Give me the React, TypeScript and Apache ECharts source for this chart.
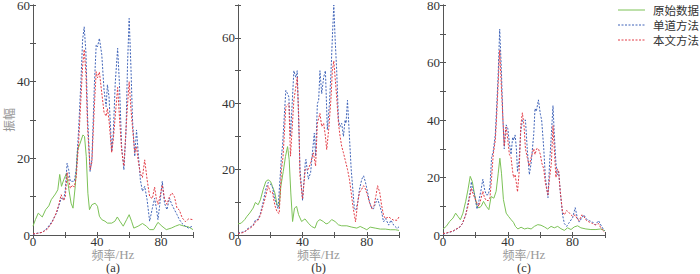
import React, { useEffect, useRef } from "react";
import * as echarts from "echarts";

type P = [number, number][];

// Panel (a)
const aRaw: P = [[0,2.3],[1.5,4],[3.3,5.7],[5.8,4.7],[7.9,6.6],[9.9,7.6],[11.4,9.2],[14,10.7],[15.5,11.8],[16.7,15.8],[17.8,12.7],[19.2,14.4],[20.9,16.1],[22.3,12.2],[23.8,8.3],[25,7],[26.4,12.7],[27.9,22.2],[29.5,24],[31.2,26.1],[32.2,25.7],[33.3,20.5],[34.3,10.9],[35.3,6.6],[36.8,7.9],[38.8,8.3],[40.3,7.5],[41.5,4.9],[43,4],[45,3.6],[46.5,3.1],[49.2,3.1],[51.2,3.6],[52.7,4.7],[54.3,3.6],[56.4,2.3],[58.5,4],[60.1,5.3],[61.6,3.6],[63,1.8],[65.7,2.3],[68.4,3],[70.9,2.3],[72.9,1.4],[75.4,1.4],[78.1,3.3],[80.6,2.3],[83.3,1.4],[86.4,1.8],[89,2.3],[91.5,2.7],[94.6,2.3],[97.3,2.1],[100,1.4]];
const aSingle: P = [[0,0.1],[2.7,0.5],[5.8,0.7],[8.9,1.8],[12,3.6],[14.7,5.7],[16.1,7.5],[17.6,9.6],[19.2,9.2],[20.2,11.8],[21.3,18.7],[22.3,17],[23.3,14],[24.8,14],[25.8,14],[27,17],[28.5,27.4],[30,40.5],[31,50.9],[32,54.3],[33.1,47.4],[34.1,30.9],[35.7,16.6],[36.8,19.6],[38.4,39.6],[39.5,49.6],[40.3,49.1],[41.5,51.3],[43,47],[44.4,37.8],[45.7,33.5],[46.5,39.2],[47.5,36.1],[49.2,21.8],[50.2,26.6],[51.4,39.6],[52.9,48.7],[54,39.6],[55.4,23.1],[56.8,17],[58.1,26.6],[59.1,44.8],[60.1,56.5],[61.2,43.9],[62.2,30],[63.6,20.5],[64.7,27.4],[65.7,21.8],[67.1,14.4],[68.4,11.4],[69.8,12.7],[71.3,9.2],[72.9,3.6],[74.6,7],[76,9.6],[77.1,7],[78.1,4],[79.1,7.5],[80.8,14],[82.2,8.3],[83.7,6.6],[85.3,9.6],[86.8,7.9],[88.4,6.6],[90,5.3],[91.5,4],[93.2,3],[95.2,2.3],[97.3,1.8],[100,2.4]];
const aOurs: P = [[0,0.3],[2.7,0.4],[5.8,0.7],[8.9,1.5],[12,3.3],[14.7,6],[16.1,7.9],[17.6,10.5],[19.2,9],[20.2,10],[21.3,16.3],[22.3,14.5],[23.3,12.2],[24.8,13],[25.8,12.5],[27,15],[28.5,24],[30,36],[31,44],[32,48.4],[33.1,42],[34.1,28],[35.7,17],[36.8,19],[38.4,34],[39.5,42.6],[40.3,41],[41.5,42.5],[43,37],[44.4,32],[45.7,31],[46.5,33],[47.5,30],[49.2,21.5],[50.2,25],[51.4,31],[52.9,38.5],[54,31],[55.4,22],[56.8,18],[58.1,27.4],[59.1,34],[60.1,40],[61.2,33],[62.2,28],[63.6,21.5],[64.7,23],[65.7,19.5],[67.1,16],[68.4,15],[69.8,19.6],[71.3,14.5],[72.9,10],[74.6,9.5],[76,12.5],[77.1,9.5],[78.1,8],[79.1,9.5],[80.8,13],[82.2,9.5],[83.7,8],[85.3,10],[86.8,11],[88.4,10],[90,7],[91.5,6.5],[93.2,4.5],[95.2,3.5],[97.3,4.2],[100,4]];

// Panel (b)
const bRaw: P = [[0,3.4],[2,3.6],[4.2,4.7],[5.6,5.7],[7.3,6.7],[9.4,8.2],[10.8,9.9],[12.5,9.2],[13.9,10.7],[15.6,13.8],[17.3,16.3],[18.7,16.8],[20.2,16.3],[21.4,14.8],[22.9,12.8],[24.3,9.2],[25.6,8.7],[26.6,14.8],[28.1,19.3],[29.5,23.9],[30.8,26.9],[31.8,22.9],[32.8,12.8],[33.9,4.1],[35.1,8.2],[36.4,8.7],[37.6,6.2],[39.5,4.1],[41.6,4.9],[43.7,3.6],[45.7,2.6],[47.8,2.1],[49.3,4.1],[50.9,4.7],[53,4.1],[54.7,3.4],[56.1,3.6],[58.2,4.7],[60.3,4.1],[62.4,3.1],[64.4,2.8],[67.6,2.8],[70.7,2.4],[73.8,2.1],[75.9,2.6],[78,2.1],[80,1.6],[82.1,2.4],[85.2,2.1],[88.4,1.8],[91.5,1.8],[94.6,1.6],[97.7,1.6],[100,1.4]];
const bSingle: P = [[0,0.6],[2,0.8],[4.2,1],[5.6,1.8],[7.3,2.3],[9.4,3],[10.8,4.5],[12.5,4.8],[13.9,6.5],[15.6,10],[17.3,14],[18.7,16],[20.2,15.5],[21.4,14.5],[22.9,11],[24.9,8],[27,24],[27.7,27.5],[29.7,44],[30.8,43],[31.6,42],[32.6,30],[34.7,50],[35.9,48],[36.8,50],[38.5,20],[40.1,10.5],[41.8,22],[42.2,23],[43.7,17],[45.1,19],[46.8,28],[47.4,31],[48.2,24],[49.3,40],[50.1,41],[50.9,50],[52,43],[53.2,48],[54.3,50],[55.1,38],[55.5,32],[56.8,40],[57.8,50],[58.6,60],[59.5,70],[60.3,60],[61.3,50],[62.4,35],[63.4,33],[64.4,34],[65.5,30],[66.5,35],[67.1,34],[68,41],[69.2,30],[70.3,20],[71.3,14],[72.3,8],[73.2,7.5],[74.4,10],[75.5,14],[76.9,17],[78,18],[79.2,16],[80.5,13],[81.7,10],[83.2,8],[84.2,8],[85.7,10],[86.7,11],[88,9],[89.2,7],[90.4,4],[91.7,5],[93.6,3],[95,4.5],[96.7,3],[98.8,2],[100,2.5]];
const bOurs: P = [[0,0.5],[2,0.6],[4.2,0.9],[5.6,1.6],[7.3,2],[9.4,2.8],[10.8,4],[12.5,4.5],[13.9,6],[15.6,9],[17.3,12],[18.7,15],[20.2,13],[21.4,13],[22.9,9],[24.3,7],[25.6,6.5],[27,20],[28,24],[29.7,39],[31.6,40],[32.6,24],[34.7,41],[36.8,48],[37.8,35],[38.5,18],[40.1,11],[41.8,20],[43.7,20],[45.1,22],[46.8,25],[48.2,21],[49.3,34],[50.9,37],[52,33],[53.2,34],[54.3,30],[55.1,26],[56.5,33],[57.8,42],[58.6,50],[59.5,53],[60.3,48],[61.3,42],[62.4,34],[63.4,30],[64.4,27],[65.5,25],[66.5,23],[68,20],[69.2,17],[70.3,13],[71.3,9],[72.3,6],[73,4],[74.4,10],[75.5,13],[76.9,14],[78,15],[79.2,14],[80.5,12],[81.6,10],[83.2,8],[84.5,9],[85.7,12],[86.7,15],[88,13],[89.2,9],[90.4,6],[91.5,5],[93.6,5.5],[95,5],[96.7,4.5],[98.8,4.5],[100,5.5]];

// Panel (c)
const cRaw: P = [[0,2.1],[2,3],[4.1,4.7],[6.2,5.9],[7.8,7.6],[9.2,6.5],[10.7,5.3],[12.3,7.6],[14,11.7],[15.4,15.7],[16.8,20.4],[18.1,18.6],[19.5,14],[21,10],[22.2,9.4],[23.6,10],[25,11.7],[26.7,10],[28.3,8.8],[29.7,13.4],[31.4,12.8],[32.8,15.2],[34.1,21.5],[35.1,26.7],[36.1,21.5],[37.3,12.3],[39,7.6],[40.4,6.5],[42.1,5.3],[43.5,4.4],[44.7,3],[46.2,2.1],[48.2,2.7],[50.3,2.1],[52.3,2.4],[54.4,2.1],[56.4,3],[58.5,3.6],[60.5,3.4],[62.6,2.8],[64.6,2.1],[66.7,3],[68.7,2.5],[70.8,3],[72.8,2.2],[74.9,1.6],[76.9,2.5],[79,1.9],[81,2.8],[83.1,3.2],[85.1,2.5],[88.2,2.1],[91.3,1.9],[94.4,1.9],[97.4,2.1],[100,1.5]];
const cSingle: P = [[0,0.3],[2,0.6],[4.1,1],[6.2,1.3],[8,2],[10,2.5],[12,4],[14,7],[15.4,11],[16.8,15],[17.5,18.5],[18.1,16.5],[19.5,14],[21,9],[22.2,12],[23.6,16],[24.6,19.4],[25.6,16],[26.7,14],[28,14],[29,17],[30,27],[31,29],[32.3,35],[33,43],[34,55],[35,71.6],[36,58],[37,40],[37.8,30],[38.5,35],[39,38.3],[40,37],[41,32],[42,28],[43,34],[43.6,33],[44.5,34.8],[45.3,30],[46,22],[47,26],[48,36],[49,39.8],[50.9,40],[52,30],[53.3,21],[54.4,25],[56,35],[56.8,44],[57.6,43],[58.9,47],[60.1,42],[60.9,40],[62.2,30],[63.2,20],[64.8,13],[65.8,25],[66.9,35],[67.9,45],[68.7,35],[69.7,25],[70.6,21],[71.4,22],[72.4,15],[73.8,7],[74.9,4],[76.3,3],[77.5,4],[80,6],[81.6,9.5],[82.9,6],[84.1,4.5],[85.7,6],[86.9,7],[88.6,5.5],[90.3,5],[92.3,4.5],[94,3.5],[96,5],[97.4,3.5],[99.5,1.5]];
const cOurs: P = [[0,0.5],[2,0.7],[4.1,1],[6.2,1.4],[8,2],[10,2.6],[12,4],[14,7],[15.4,10],[16.8,14],[17.5,16.3],[18.1,15],[19.5,13],[21,11],[22.2,10],[23.6,13],[24.6,15.2],[25.6,13],[26.7,12],[28,12],[29,13],[30,20],[31,28],[32.3,33],[33,40],[34,52],[35,64.3],[36,52],[37,40],[37.8,31],[38.5,36],[39,37.5],[40,33],[41,28],[42,27],[43,22],[43.6,20],[44.5,21],[45.3,18],[46,15],[47,22],[48,38],[49,42.5],[50,38],[50.9,30],[52,27],[53.3,24],[54.4,27],[56,30],[56.8,28],[57.8,30],[58.9,30],[60.1,28],[61,25],[62.2,23],[63.2,18],[64.8,14],[65.8,20],[66.9,25],[67.9,38],[68.7,30],[69.7,20],[70.6,23],[71.4,22],[72.4,15],[73.8,8],[74.9,7],[76.3,8.5],[77.5,8],[79,7],[80,6.5],[81.6,7],[82.9,5.5],[84.1,5],[85.7,7],[86.9,6.5],[88.6,5],[90.3,4.5],[92.3,4],[94,3.5],[96,4],[97.4,2.5],[99.5,1]];

const seriesNames = ["原始数据", "单道方法", "本文方法"];
const panelLabels = ["(a)", "(b)", "(c)"];
const yMax = [60, 70, 80];
const xTickLabels = [0, 40, 80];
const panels: P[][] = [
  [aRaw, aSingle, aOurs],
  [bRaw, bSingle, bOurs],
  [cRaw, cSingle, cOurs],
];

const colors = ["#7cc257", "#3f63b8", "#e23b45"];
const lineTypes: any[] = ["solid", [2, 1.5], [2, 1.5]];
const serif = "'Liberation Serif', 'Times New Roman', serif";
const cjk = "'Noto Sans CJK SC', sans-serif";
const axisColor = "#555";

export default function App() {
  const ref = useRef<HTMLDivElement>(null);
  useEffect(() => {
    if (!ref.current) return;
    const chart = echarts.init(ref.current, null, { renderer: "svg" });
    const gridLefts = [33, 238, 443];
    const gridWidths = [160, 161, 162];
    const grid: any[] = [];
    const xAxis: any[] = [];
    const yAxis: any[] = [];
    const series: any[] = [];
    const graphic: any[] = [];
    panels.forEach((panel, i) => {
      grid.push({
        left: gridLefts[i],
        top: 5,
        width: gridWidths[i],
        height: 230,
        containLabel: false,
        outerBoundsMode: "none",
      });
      const common = {
        gridIndex: i,
        type: "value",
        min: 0,
        axisLine: { show: true, lineStyle: { color: axisColor, width: 1 } },
        axisTick: { show: true, inside: true, length: 3, lineStyle: { color: axisColor } },
        splitLine: { show: false },
      };
      xAxis.push({
        ...common,
        max: 100,
        interval: 20,
        position: "bottom",
        axisLabel: {
          margin: 0,
          fontFamily: serif,
          fontSize: 13,
          lineHeight: 12,
          color: "#333",
          formatter: (v: number) => (xTickLabels.includes(v) ? String(v) : ""),
        },
        name: "{n|频率}{h|/Hz}",
        nameLocation: "middle",
        nameGap: 13,
        nameMoveOverlap: false,
        nameTextStyle: {
          rich: {
            n: { fontFamily: cjk, fontSize: 12, color: "#999", lineHeight: 13 },
            h: { fontFamily: serif, fontSize: 13, color: "#999", lineHeight: 13 },
          },
        },
      });
      xAxis.push({
        ...common,
        max: 100,
        interval: 20,
        position: "top",
        axisLabel: { show: false },
      });
      yAxis.push({
        ...common,
        max: yMax[i],
        interval: 10,
        position: "left",
        axisLabel: {
          margin: 3,
          fontFamily: serif,
          fontSize: 13,
          color: "#333",
          formatter: (v: number) => (v % 20 === 0 ? String(v) : ""),
        },
        name: i === 0 ? "振幅" : "",
        nameLocation: "middle",
        nameGap: 19,
        nameMoveOverlap: false,
        nameTextStyle: { fontFamily: cjk, fontSize: 12, color: "#999" },
      });
      yAxis.push({
        ...common,
        max: yMax[i],
        interval: 10,
        position: "right",
        axisLabel: { show: false },
      });
      graphic.push({
        type: "text",
        x: gridLefts[i] + gridWidths[i] / 2,
        y: 268,
        style: {
          text: panelLabels[i],
          fontFamily: serif,
          fontSize: 12.5,
          fill: "#333",
          align: "center",
          verticalAlign: "middle",
        },
      });
      panel.forEach((data, k) => {
        series.push({
          type: "line",
          name: seriesNames[k],
          xAxisIndex: i * 2,
          yAxisIndex: i * 2,
          data,
          symbol: "none",
          lineStyle: { color: colors[k], width: 1, type: lineTypes[k] },
          itemStyle: { color: colors[k] },
          z: k === 0 ? 2 : k === 1 ? 3 : 4,
        });
      });
    });
    const legendY = [10, 25, 40];
    seriesNames.forEach((name, k) => {
      graphic.push({
        type: "line",
        shape: { x1: 618, y1: legendY[k], x2: 645, y2: legendY[k] },
        style: {
          stroke: colors[k],
          lineWidth: 1,
          lineDash: k === 0 ? null : [2, 1.5],
        },
      });
      graphic.push({
        type: "text",
        x: 653,
        y: legendY[k],
        style: {
          text: name,
          fontFamily: cjk,
          fontSize: 11.5,
          fill: "#333",
          verticalAlign: "middle",
          align: "left",
        },
      });
    });
    chart.setOption({
      animation: false,
      grid,
      xAxis,
      yAxis,
      series,
      graphic,
    });
    return () => chart.dispose();
  }, []);
  return (
    <div
      ref={ref}
      style={{ position: "fixed", left: 0, top: 0, width: 700, height: 274, background: "#fff" }}
    />
  );
}
